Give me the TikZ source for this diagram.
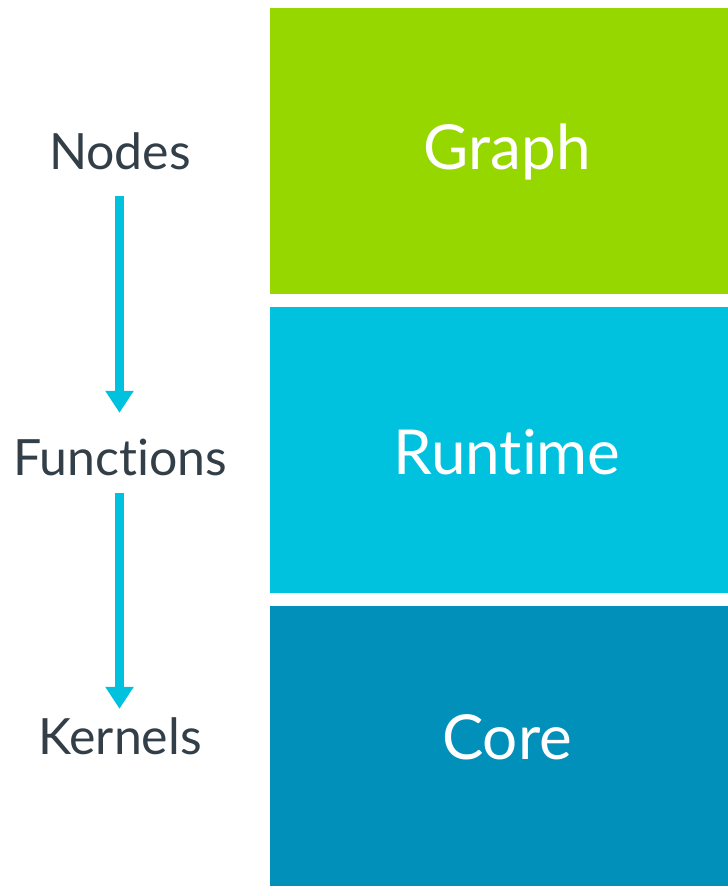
\documentclass[tikz,border=0pt]{standalone}
\usepackage{fontspec}
\setmainfont{Lato}[Ligatures={NoCommon},RawFeature={-liga;-clig;-dlig}]
\usetikzlibrary{arrows.meta}
\definecolor{cgreen}{HTML}{97D700}
\definecolor{ccyan}{HTML}{00C1DE}
\definecolor{cdark}{HTML}{0090BA}
\definecolor{ctext}{HTML}{333F48}
\tikzset{
  layer/.style={fill=#1, draw=none},
  laytext/.style={anchor=base, text=white, font=\fontsize{62}{74}\selectfont, inner sep=0pt},
  sidelabel/.style={anchor=base, text=ctext, font=\fontsize{50}{60}\selectfont, inner sep=0pt, text height=36pt, text depth=0pt},
  flow/.style={draw=ccyan, line width=9pt, -{Triangle[width=27pt,length=22pt]}}
}
\begin{document}
\begin{tikzpicture}[x=1pt,y=-1pt]
\useasboundingbox (0,0) rectangle (728,886);
\fill[white] (0,0) rectangle (728,886);
\fill[layer=cgreen] (270,8) rectangle (728,294);
\fill[layer=ccyan] (270,307) rectangle (728,593);
\fill[layer=cdark] (270,606) rectangle (728,886);
\node[laytext] (graph) at (507,169) {Graph};
\node[laytext] (runtime) at (507,474) {Runtime};
\node[laytext] (core) at (507,759) {Core};
\node[sidelabel] (nodes) at (120,169) {Nodes};
\node[sidelabel] (functions) at (120,475) {Functions};
\node[sidelabel] (kernels) at (120,754) {Kernels};
\draw[flow, shorten <=27pt, shorten >=26pt] ([xshift=-0.5pt]nodes.south) -- ([xshift=-0.5pt]functions.north);
\draw[flow, shorten <=18pt, shorten >=9pt] ([xshift=-0.5pt]functions.south) -- ([xshift=-0.5pt]kernels.north);
\end{tikzpicture}
\end{document}
